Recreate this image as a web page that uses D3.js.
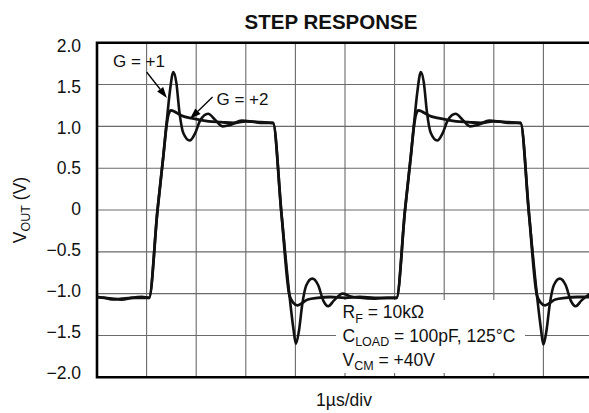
<!DOCTYPE html>
<html>
<head>
<meta charset="utf-8">
<script src="https://cdn.jsdelivr.net/npm/d3@7"></script>
<style>
  html, body { margin: 0; padding: 0; background: #fff; }
  svg { display: block; }
  text { font-family: Arial, "Liberation Sans", Helvetica, sans-serif; fill: #111; }
</style>
</head>
<body>
<svg id="chart" width="589" height="413"></svg>
<script>
// Time axis in microseconds (1 µs per division), output voltage in volts.
const timeG1 = [
  0.00, 0.15, 0.30, 0.50, 0.70, 0.90, 1.05, 1.22, 1.34, 1.40, 1.47, 1.54, 1.60, 1.66, 1.74, 1.87,
  1.98, 2.08, 2.24, 2.38, 2.53, 2.70, 2.92, 3.10, 3.30, 3.55, 3.72, 3.88, 3.96, 4.01, 4.07, 4.14,
  4.22, 4.34, 4.46, 4.56, 4.66, 4.78, 4.95, 5.10, 5.30, 5.60, 5.85, 6.04, 6.21, 6.33, 6.39, 6.46,
  6.53, 6.59, 6.65, 6.73, 6.86, 6.97, 7.07, 7.23, 7.37, 7.52, 7.69, 7.91, 8.09, 8.29, 8.54, 8.71,
  8.87, 8.95, 9.00, 9.06, 9.13, 9.21, 9.33, 9.45, 9.55, 9.65, 9.77, 9.94
];
const voltsG1 = [
  -1.04, -1.05, -1.07, -1.06, -1.05, -1.05, -1.05, 0.00, 0.66, 1.02, 1.42, 1.65, 1.52, 1.18, 0.92, 0.83,
  0.92, 1.07, 1.15, 1.08, 1.00, 1.02, 1.07, 1.06, 1.04, 1.04, -0.05, -1.02, -1.42, -1.60, -1.45, -1.12,
  -0.90, -0.82, -0.90, -1.08, -1.15, -1.08, -1.00, -1.03, -1.05, -1.06, -1.05, -1.05, 0.00, 0.66, 1.02, 1.42,
  1.65, 1.52, 1.18, 0.92, 0.83, 0.92, 1.07, 1.15, 1.08, 1.00, 1.02, 1.07, 1.06, 1.04, 1.04, -0.05,
  -1.02, -1.42, -1.61, -1.45, -1.12, -0.90, -0.82, -0.90, -1.08, -1.15, -1.08, -1.00
];

const timeG2 = [
  0.00, 0.15, 0.30, 0.50, 0.70, 0.90, 1.05, 1.22, 1.34, 1.40, 1.44, 1.49, 1.58, 1.70, 1.87, 2.05,
  2.25, 2.50, 2.75, 3.00, 3.30, 3.55, 3.72, 3.88, 3.96, 4.04, 4.14, 4.25, 4.45, 4.70, 5.00, 5.30,
  5.60, 6.04, 6.21, 6.33, 6.39, 6.43, 6.48, 6.57, 6.69, 6.86, 7.04, 7.24, 7.49, 7.74, 7.99, 8.29,
  8.54, 8.71, 8.87, 8.95, 9.03, 9.13, 9.24, 9.44, 9.69, 9.94
];
const voltsG2 = [
  -1.04, -1.05, -1.06, -1.07, -1.05, -1.04, -1.05, 0.00, 0.66, 1.00, 1.14, 1.19, 1.17, 1.13, 1.10, 1.08,
  1.06, 1.05, 1.04, 1.06, 1.05, 1.04, -0.05, -1.02, -1.11, -1.14, -1.11, -1.07, -1.05, -1.04, -1.05, -1.04,
  -1.05, -1.05, 0.00, 0.66, 1.00, 1.14, 1.19, 1.17, 1.13, 1.10, 1.08, 1.06, 1.05, 1.04, 1.06, 1.05,
  1.04, -0.05, -1.02, -1.11, -1.14, -1.11, -1.07, -1.05, -1.04, -1.04
];

const yTickValues = [2.0, 1.5, 1.0, 0.5, 0, -0.5, -1.0, -1.5, -2.0];
const yTickLabels = ["2.0", "1.5", "1.0", "0.5", "0", "\u22120.5", "\u22121.0", "\u22121.5", "\u22122.0"];
const xDivisions = d3.range(0, 11);   // 10 divisions of 1 µs

const svg = d3.select("#chart");
const margin = { left: 97, top: 42.7, right: 593, bottom: 377.3 };

const x = d3.scaleLinear().domain([0, 10]).range([margin.left, margin.right]);
const y = d3.scaleLinear().domain([-2, 2]).range([margin.bottom, margin.top]);
// tick labels sit on a slightly tighter ladder than the grid
const yLabel = d3.scaleLinear().domain([-2, 2]).range([372.5, 45.5]);

// grid
const grid = svg.append("g").attr("stroke", "#6a6a6a").attr("stroke-width", 1.1);
grid.selectAll("line.h").data(yTickValues.filter(v => v > -2 && v < 2)).join("line")
  .attr("x1", margin.left).attr("x2", margin.right)
  .attr("y1", d => y(d)).attr("y2", d => y(d));
grid.selectAll("line.v").data(xDivisions.filter(d => d > 0 && d < 10)).join("line")
  .attr("x1", d => x(d)).attr("x2", d => x(d))
  .attr("y1", margin.top).attr("y2", margin.bottom);

// conditions box masks the grid underneath
svg.append("rect")
  .attr("x", 336).attr("y", 300).attr("width", 189).attr("height", 73)
  .attr("fill", "#fff");

// frame (left, top, bottom)
svg.append("path")
  .attr("d", `M${margin.right + 5},${margin.top} H${margin.left} V${margin.bottom} H${margin.right + 5}`)
  .attr("fill", "none").attr("stroke", "#000").attr("stroke-width", 2.6);

// traces
svg.append("clipPath").attr("id", "plotClip").append("rect")
  .attr("x", margin.left).attr("y", margin.top)
  .attr("width", margin.right - margin.left).attr("height", margin.bottom - margin.top);

const line = d3.line().x(d => x(d[0])).y(d => y(d[1])).curve(d3.curveMonotoneX);
const traces = svg.append("g").attr("clip-path", "url(#plotClip)");
traces.append("path")
  .datum(d3.zip(timeG2, voltsG2))
  .attr("d", line).attr("fill", "none")
  .attr("stroke", "#111").attr("stroke-width", 2.8).attr("stroke-linejoin", "round");
traces.append("path")
  .datum(d3.zip(timeG1, voltsG1))
  .attr("d", line).attr("fill", "none")
  .attr("stroke", "#111").attr("stroke-width", 2.6).attr("stroke-linejoin", "round");

// y tick labels
svg.append("g").selectAll("text").data(yTickValues).join("text")
  .attr("x", 81).attr("y", d => yLabel(d))
  .attr("dy", "0.36em")
  .attr("text-anchor", "end")
  .attr("font-size", 17.5)
  .text((d, i) => yTickLabels[i]);

// title
svg.append("text")
  .attr("x", 331).attr("y", 29)
  .attr("text-anchor", "middle")
  .attr("font-size", 20.5).attr("font-weight", "bold")
  .text("STEP RESPONSE");

// y axis title
const yt = svg.append("text")
  .attr("transform", "translate(25.5,210) rotate(-90)")
  .attr("text-anchor", "middle")
  .attr("font-size", 17.5);
yt.append("tspan").text("V");
yt.append("tspan").attr("font-size", 12.5).attr("dy", 4).text("OUT");
yt.append("tspan").attr("dy", -4).text(" (V)");

// x axis title
svg.append("text")
  .attr("x", 344).attr("y", 406)
  .attr("text-anchor", "middle")
  .attr("font-size", 17.5)
  .text("1\u00B5s/div");

// curve labels with arrows
function arrow(x0, y0, x1, y1) {
  const ang = Math.atan2(y1 - y0, x1 - x0);
  const len = 11, half = 3.8;
  const bx = x1 - len * Math.cos(ang), by = y1 - len * Math.sin(ang);
  svg.append("line")
    .attr("x1", x0).attr("y1", y0).attr("x2", bx).attr("y2", by)
    .attr("stroke", "#000").attr("stroke-width", 1.3);
  svg.append("path")
    .attr("d", `M${x1},${y1} L${bx + half * Math.sin(ang)},${by - half * Math.cos(ang)} L${bx - half * Math.sin(ang)},${by + half * Math.cos(ang)} Z`)
    .attr("fill", "#000");
}
svg.append("text").attr("x", 113).attr("y", 66.5).attr("font-size", 17).text("G = +1");
arrow(x(1.0), y(1.65), x(1.41), y(1.34));
svg.append("text").attr("x", 216.5).attr("y", 105).attr("font-size", 17).text("G = +2");
arrow(x(2.33), y(1.35), x(1.875), y(1.09));

// test conditions
const cond = svg.append("g").attr("font-size", 17.5);
function condLine(yPos, main, sub, rest) {
  const t = cond.append("text").attr("x", 342.5).attr("y", yPos);
  t.append("tspan").text(main);
  t.append("tspan").attr("font-size", 12.5).attr("dy", 4.5).text(sub);
  t.append("tspan").attr("dy", -4.5).text(rest);
}
condLine(318.3, "R", "F", " = 10k\u03A9");
condLine(341.7, "C", "LOAD", " = 100pF, 125\u00B0C");
condLine(365.7, "V", "CM", " = +40V");
</script>
</body>
</html>
